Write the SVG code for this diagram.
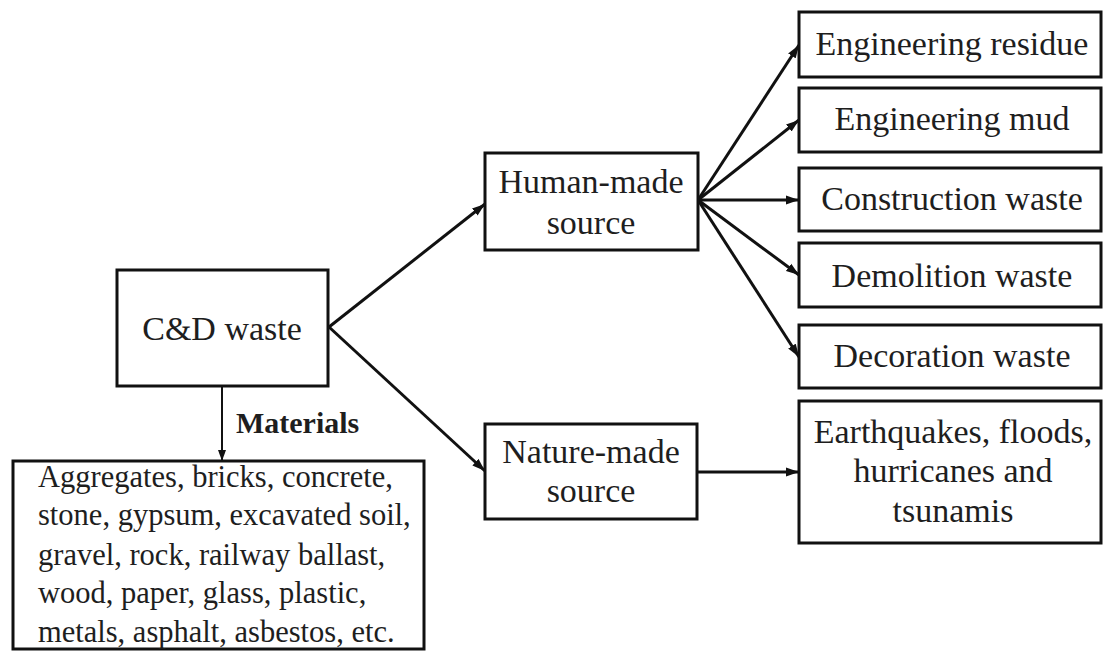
<svg xmlns="http://www.w3.org/2000/svg" width="1103" height="651" viewBox="0 0 1103 651">
  <style>
    .box { fill: #ffffff; stroke: #111111; stroke-width: 3; }
    .lbl { font-family: "Liberation Serif", "Times New Roman", serif; font-size: 34px; fill: #1e1e1e; text-anchor: middle; }
    .mat { font-family: "Liberation Serif", "Times New Roman", serif; font-size: 30.5px; fill: #1e1e1e; }
    .bold { font-family: "Liberation Serif", "Times New Roman", serif; font-size: 30px; font-weight: bold; fill: #1e1e1e; }
    .conn { stroke: #111111; stroke-width: 3; fill: none; marker-end: url(#arr); }
    .thin { stroke: #111111; stroke-width: 2; fill: none; marker-end: url(#arrs); }
  </style>
  <defs>
    <marker id="arr" markerUnits="userSpaceOnUse" markerWidth="14" markerHeight="10" refX="13" refY="5" orient="auto">
      <path d="M0,0.5 L13,5 L0,9.5 Z" fill="#111111"/>
    </marker>
    <marker id="arrs" markerUnits="userSpaceOnUse" markerWidth="12" markerHeight="10" refX="11" refY="5" orient="auto">
      <path d="M0,1 L11,5 L0,9 Z" fill="#111111"/>
    </marker>
  </defs>
  <rect width="1103" height="651" fill="#ffffff"/>

  <g id="connectors">
    <line class="conn" x1="329" y1="327" x2="485" y2="204"/>
    <line class="conn" x1="329" y1="327" x2="485" y2="471"/>
    <line class="conn" x1="698" y1="200" x2="799" y2="45"/>
    <line class="conn" x1="698" y1="200" x2="799" y2="120"/>
    <line class="conn" x1="698" y1="200" x2="799" y2="200"/>
    <line class="conn" x1="698" y1="200" x2="799" y2="275"/>
    <line class="conn" x1="698" y1="200" x2="799" y2="357"/>
    <line class="conn" x1="697" y1="472" x2="799" y2="472"/>
    <line class="thin" x1="222" y1="386" x2="222" y2="461"/>
    <text class="bold" x="236" y="433">Materials</text>
  </g>

  <g id="cd-waste">
    <rect class="box" x="117" y="270" width="211" height="116"/>
    <text class="lbl" x="222" y="340">C&amp;D waste</text>
  </g>

  <g id="human-made">
    <rect class="box" x="485" y="153" width="213" height="97"/>
    <text class="lbl" x="591" y="193">Human-made</text>
    <text class="lbl" x="591" y="234">source</text>
  </g>

  <g id="nature-made">
    <rect class="box" x="485" y="424" width="212" height="95"/>
    <text class="lbl" x="591" y="463">Nature-made</text>
    <text class="lbl" x="591" y="502">source</text>
  </g>

  <g id="engineering-residue">
    <rect class="box" x="799" y="12" width="302" height="65"/>
    <text class="lbl" x="952" y="55">Engineering residue</text>
  </g>

  <g id="engineering-mud">
    <rect class="box" x="799" y="88" width="302" height="64"/>
    <text class="lbl" x="952" y="130">Engineering mud</text>
  </g>

  <g id="construction-waste">
    <rect class="box" x="799" y="168" width="302" height="63"/>
    <text class="lbl" x="952" y="210">Construction waste</text>
  </g>

  <g id="demolition-waste">
    <rect class="box" x="799" y="243" width="302" height="64"/>
    <text class="lbl" x="952" y="287">Demolition waste</text>
  </g>

  <g id="decoration-waste">
    <rect class="box" x="799" y="325" width="302" height="63"/>
    <text class="lbl" x="952" y="367">Decoration waste</text>
  </g>

  <g id="natural-disasters">
    <rect class="box" x="799" y="401" width="302" height="142"/>
    <text class="lbl" x="953" y="443">Earthquakes, floods,</text>
    <text class="lbl" x="953" y="482">hurricanes and</text>
    <text class="lbl" x="953" y="522">tsunamis</text>
  </g>

  <g id="materials">
    <rect class="box" x="13" y="461" width="411" height="188"/>
    <text class="mat" x="38" y="487">Aggregates, bricks, concrete,</text>
    <text class="mat" x="38" y="525">stone, gypsum, excavated soil,</text>
    <text class="mat" x="38" y="565">gravel, rock, railway ballast,</text>
    <text class="mat" x="38" y="603">wood, paper, glass, plastic,</text>
    <text class="mat" x="38" y="642">metals, asphalt, asbestos, etc.</text>
  </g>
</svg>
